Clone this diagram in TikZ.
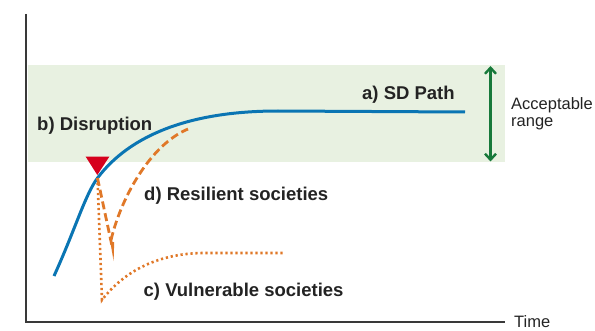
\documentclass[tikz,border=0pt]{standalone}
\usepackage{fontspec}
\setmainfont{Liberation Sans}
\usetikzlibrary{arrows.meta}
\definecolor{sdblue}{HTML}{0A75B3}
\definecolor{shockorange}{HTML}{E07828}
\definecolor{shockred}{HTML}{D6001C}
\definecolor{rangegreen}{HTML}{17793A}
\definecolor{bandgreen}{HTML}{E8F1E1}
\definecolor{inkgray}{HTML}{232323}
\tikzset{
  every picture/.style={x=1pt,y=1pt},
  caselabel/.style={anchor=base west, inner sep=0pt, text=inkgray,
    font=\fontsize{18.5}{18.5}\selectfont\bfseries},
  plainlabel/.style={anchor=base west, inner sep=0pt, text=inkgray,
    font=\fontsize{16.5}{17}\selectfont},
  resilient/.style={shockorange, line width=2.8pt, dash pattern=on 8pt off 4pt},
  vulnerable/.style={shockorange, line width=2.6pt, dash pattern=on 2.2pt off 2.8pt}
}

\begin{document}
\begin{tikzpicture}
      \useasboundingbox (0,0) rectangle (595,330);
      \fill[bandgreen] (28,167.7) rectangle (505,265);
      \draw[inkgray!90!white, line width=2.6pt] (26,316) -- (26,8) -- (505,8);
      \draw[rangegreen, line width=2.4pt, {Straight Barb[length=6pt,width=11pt]}-{Straight Barb[length=6pt,width=11pt]}]
        (490.5,264) -- (490.5,168.5);
      \coordinate (disrupt) at (97.5,152);
      \draw[sdblue, line width=3pt] (54,54) .. controls (75,100) and (85,135) .. (disrupt)
        .. controls (130,195) and (190,219) .. (278,219) -- (465,218);
      \draw[resilient] (disrupt) -- (112,84);
      \fill[shockorange] (110.3,88) -- (114.2,88) -- (113.6,69) -- cycle;
      \draw[resilient] (111,90) .. controls (121,132) and (150,185) .. (188,201);
      \draw[vulnerable] (disrupt) -- (102,30) .. controls (125,60) and (160,77) .. (205,77) -- (285,77);
      \fill[shockred] (85.7,173.3) -- (109.3,173.3) -- (97.3,155) -- cycle;
      \node[caselabel] (sdpath) at (362,230) {a) SD Path};
      \node[caselabel] (disruption) at (37,199) {b) Disruption};
      \node[caselabel] (resil) at (144,129.5) {d) Resilient societies};
      \node[caselabel] (vulner) at (143.5,34) {c) Vulnerable societies};
      \node[plainlabel] (accept) at (511,220) {Acceptable};
      \node[plainlabel] (range) at (511,203.5) {range};
      \node[plainlabel] (time) at (514,3) {Time};
\end{tikzpicture}
\end{document}
